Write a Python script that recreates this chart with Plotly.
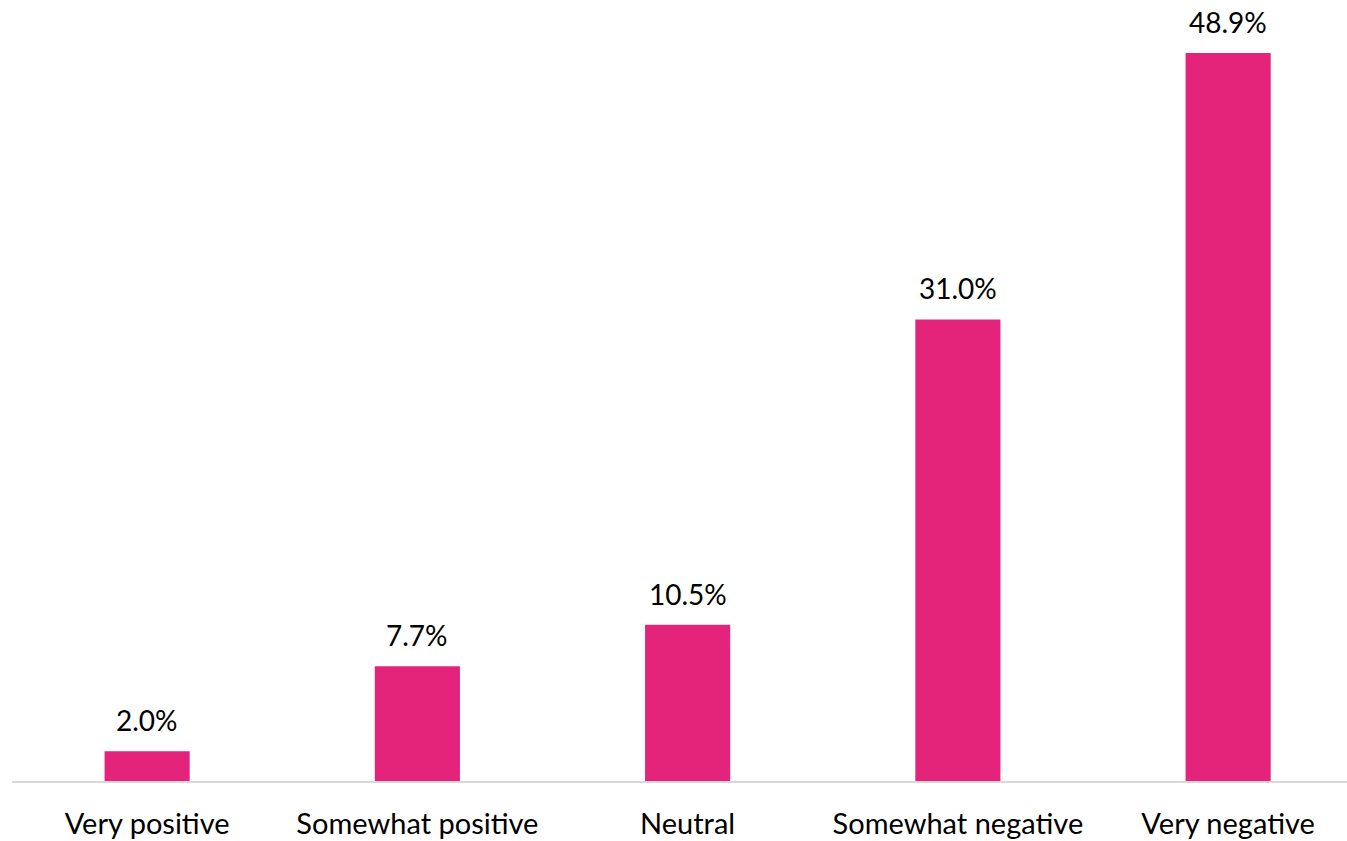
import plotly.graph_objects as go

categories = ["Very positive", "Somewhat positive", "Neutral", "Somewhat negative", "Very negative"]
shares = [2.0, 7.7, 10.5, 31.0, 48.9]
labels = [f"{v:.1f}%" for v in shares]

BAR_COLOR = "#E4247A"
FONT = "Lato"

fig = go.Figure(
    go.Bar(
        x=categories,
        y=shares,
        marker=dict(color=BAR_COLOR, line=dict(width=0)),
        width=0.315,
        hoverinfo="skip",
    )
)

for cat, val, lab in zip(categories, shares, labels):
    fig.add_annotation(
        x=cat, y=val, text=lab, showarrow=False,
        yanchor="bottom", yshift=12,
        font=dict(family=FONT, size=28, color="#000000"),
    )

fig.update_layout(
    width=1347,
    height=841,
    margin=dict(l=12, r=0, t=0, b=60),
    paper_bgcolor="white",
    plot_bgcolor="white",
    showlegend=False,
    bargap=0.685,
)

fig.update_xaxes(
    type="category",
    range=[-0.5, -0.5 + 1335 / 270.25],
    showgrid=False,
    showline=True,
    linecolor="#D9D9D9",
    linewidth=2,
    ticks="",
    ticklabelstandoff=16,
    tickfont=dict(family=FONT, size=29, color="#000000"),
)
fig.update_yaxes(
    range=[0, 781 / (728 / 48.9)],
    visible=False,
    showgrid=False,
    zeroline=False,
)

fig.write_html("out.html")
